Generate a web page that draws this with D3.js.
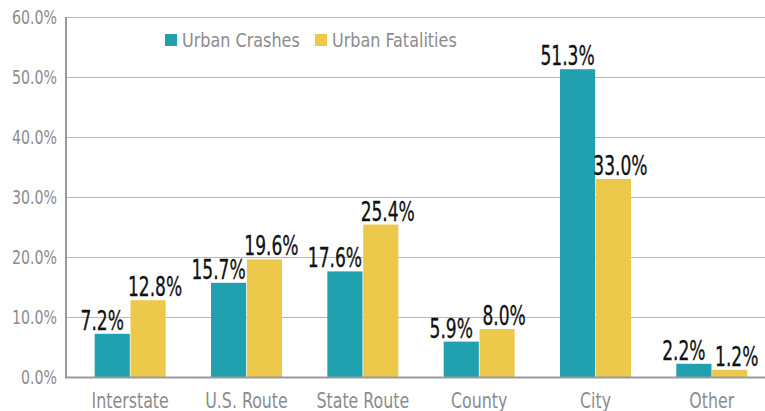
<!DOCTYPE html>
<html>
<head>
<meta charset="utf-8">
<script src="https://cdn.jsdelivr.net/npm/d3@7"></script>
<style>
  body { margin: 0; background: #fff; }
  svg text { font-family: "DejaVu Sans Condensed", "DejaVu Sans", sans-serif; font-stretch: condensed; }
</style>
</head>
<body>
<div id="chart"></div>
<script>
var categories = ["Interstate", "U.S. Route", "State Route", "County", "City", "Other"];
var seriesNames = ["Urban Crashes", "Urban Fatalities"];
var crashes = [7.2, 15.7, 17.6, 5.9, 51.3, 2.2];
var fatalities = [12.8, 19.6, 25.4, 8.0, 33.0, 1.2];
var yTicks = [0, 10, 20, 30, 40, 50, 60];
var colors = ["#21a0b0", "#ecc94b"];

var width = 765, height = 411;
var fontStack = "'DejaVu Sans Condensed', 'DejaVu Sans', sans-serif";

// squeeze text horizontally around its own x so it looks like the narrow original font
function squeeze(sel, sx) {
  sel.attr("transform", function() {
    var x0 = +d3.select(this).attr("x") || 0;
    return "translate(" + (x0 * (1 - sx)) + ",0) scale(" + sx + ",1)";
  });
}

var svg = d3.select("#chart")
  .append("svg")
    .attr("width", width)
    .attr("height", height);

// scales
var x = d3.scaleBand().domain(categories).range([72, 770]).paddingInner(0.39).paddingOuter(0.195);
var x1 = d3.scaleBand().domain(seriesNames).range([0, x.bandwidth()]).paddingInner(0.02);
var y = d3.scaleLinear().domain([0, 60]).range([377, 17]);

// gridlines
svg.append("g")
  .selectAll("line")
  .data(yTicks.filter(function(d) { return d > 0; }))
  .enter().append("line")
    .attr("x1", 67).attr("x2", width)
    .attr("y1", function(d) { return y(d) + 0.5; })
    .attr("y2", function(d) { return y(d) + 0.5; })
    .attr("stroke", "#b8b8b8")
    .attr("stroke-width", 1);

// y axis labels
var yAxis = d3.axisLeft(y).tickValues(yTicks).tickSize(0).tickPadding(9)
  .tickFormat(function(d) { return d3.format(".1f")(d) + "%"; });
var ya = svg.append("g").attr("transform", "translate(66,0)").call(yAxis);
ya.select(".domain").remove();
ya.selectAll("text").attr("font-size", "19px").attr("fill", "#8c8c8f")
  .attr("font-family", fontStack).style("font-stretch", "condensed");
squeeze(ya.selectAll("text"), 0.83);

// bars
var rows = categories.map(function(c, i) {
  return { cat: c, values: [crashes[i], fatalities[i]] };
});

var groups = svg.append("g").selectAll("g")
  .data(rows)
  .enter().append("g")
    .attr("transform", function(d) { return "translate(" + x(d.cat) + ",0)"; });

groups.selectAll("rect")
  .data(function(d) { return d.values.map(function(v, j) { return { s: seriesNames[j], v: v, j: j }; }); })
  .enter().append("rect")
    .attr("x", function(d) { return x1(d.s); })
    .attr("width", x1.bandwidth())
    .attr("y", function(d) { return y(d.v); })
    .attr("height", function(d) { return y(0) - y(d.v); })
    .attr("fill", function(d) { return colors[d.j]; });

// value labels (nudged outward like the original)
var nudge = [-10, 7];
var vals = groups.selectAll("text.val")
  .data(function(d) { return d.values.map(function(v, j) { return { s: seriesNames[j], v: v, j: j }; }); })
  .enter().append("text")
    .attr("class", "val")
    .attr("x", function(d) { return x1(d.s) + x1.bandwidth() / 2 + nudge[d.j]; })
    .attr("y", function(d) { return y(d.v) - 4; })
    .attr("text-anchor", "middle")
    .attr("font-size", "26px")
    .attr("fill", "#111")
    .attr("stroke", "#111")
    .attr("stroke-width", 0.3)
    .text(function(d) { return d3.format(".1f")(d.v) + "%"; });
squeeze(vals, 0.73);

// axes lines
svg.append("line")
  .attr("x1", 66).attr("x2", 66).attr("y1", 17).attr("y2", 378)
  .attr("stroke", "#9a9a9d").attr("stroke-width", 2);
svg.append("line")
  .attr("x1", 65).attr("x2", width).attr("y1", 377.5).attr("y2", 377.5)
  .attr("stroke", "#9a9a9d").attr("stroke-width", 2);

// category labels
var xAxis = d3.axisBottom(x).tickSize(0).tickPadding(14);
var xa = svg.append("g").attr("transform", "translate(0,378)").call(xAxis);
xa.select(".domain").remove();
xa.selectAll("text").attr("font-size", "22px").attr("fill", "#8c8c8f")
  .attr("font-family", fontStack).style("font-stretch", "condensed");
squeeze(xa.selectAll("text"), 0.8);

// legend
var legendX = [165, 315];
var legend = svg.append("g").selectAll("g")
  .data(seriesNames)
  .enter().append("g")
    .attr("transform", function(d, i) { return "translate(" + legendX[i] + ",34)"; });
legend.append("rect")
  .attr("width", 12).attr("height", 12)
  .attr("fill", function(d, i) { return colors[i]; });
var ltext = legend.append("text")
  .attr("x", 17).attr("y", 13)
  .attr("font-size", "20px")
  .attr("fill", "#8c8c8f")
  .text(function(d) { return d; });
squeeze(ltext, 0.89);
</script>
</body>
</html>
